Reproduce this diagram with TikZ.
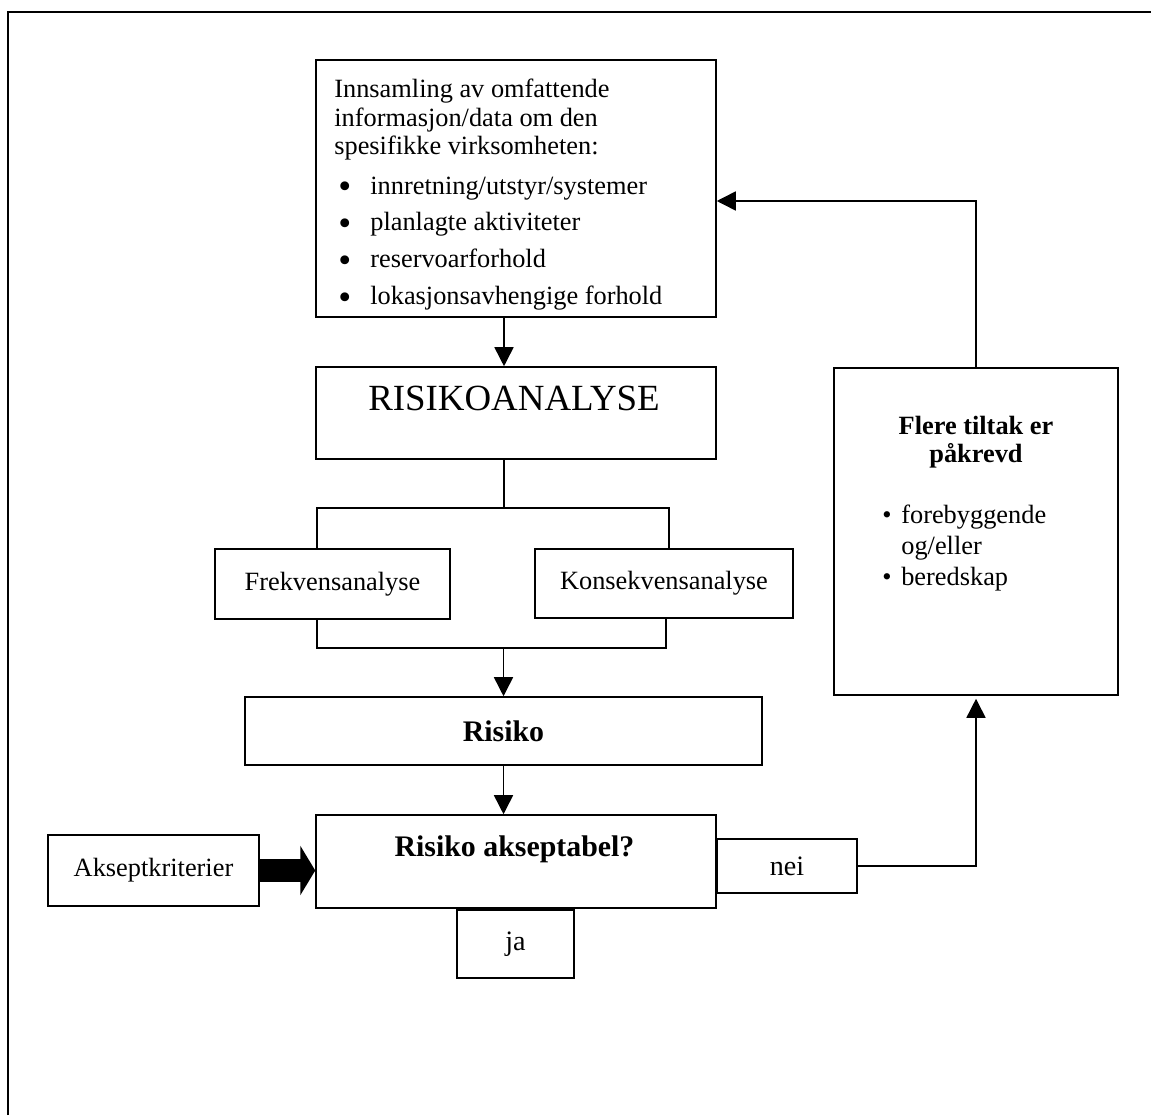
\documentclass[tikz,border=0pt]{standalone}
\usepackage{fontspec}
\setmainfont{Liberation Serif}
\usetikzlibrary{arrows.meta}
\def\pkt{\hspace*{0.08cm}\makebox[0.64cm][l]{\raisebox{-2.5pt}{\fontsize{21}{16}\selectfont\textbullet}}}
\def\lpkt{\makebox[10.8pt][l]{\textbullet}}

\begin{document}
\begin{tikzpicture}[x=0.02cm,y=-0.02cm,
		boks/.style={draw,line width=0.9pt,inner sep=0pt,font=\fontsize{15}{17}\selectfont},
		tekst/.style={inner sep=0pt,align=left,font=\fontsize{15}{16}\selectfont},
		fet/.style={inner sep=0pt,font=\fontsize{17}{19}\selectfont\bfseries},
		pil/.style={line width=0.9pt,-{Triangle[length=0.38cm,width=0.38cm]}},
		linje/.style={line width=0.9pt}]
			\useasboundingbox (0,0) rectangle (1151,1115);
			\draw[line width=1.1pt] (8,1115) -- (8,12) -- (1151,12);
			% boksene
			\node[boks,minimum width=8cm,minimum height=5.14cm] (info) at (516,188.5) {};
			\node[boks,minimum width=8cm,minimum height=1.84cm] (analyse) at (516,413) {};
			\node[boks,minimum width=4.7cm,minimum height=1.4cm] (frek) at (332.5,584) {Frekvensanalyse};
			\node[boks,minimum width=5.16cm,minimum height=1.38cm] (konsek) at (664,583.5) {Konsekvensanalyse};
			\node[boks,minimum width=10.34cm,minimum height=1.36cm,font=\fontsize{17}{19}\selectfont\bfseries] (risiko) at (503.5,731) {Risiko};
			\node[boks,minimum width=8cm,minimum height=1.86cm] (aksept) at (516,861.5) {};
			\node[boks,minimum width=4.22cm,minimum height=1.42cm] (kriterier) at (153.5,870.5) {Akseptkriterier};
			\node[boks,minimum width=2.34cm,minimum height=1.36cm,font=\fontsize{16}{18}\selectfont] (ja) at (515.5,944) {ja};
			\node[boks,minimum width=2.8cm,minimum height=1.08cm,font=\fontsize{16}{18}\selectfont] (nei) at (787,866) {nei};
			\node[boks,minimum width=5.68cm,minimum height=6.54cm] (tiltak) at (976,531.5) {};
			% tekst i boksene
			\node[tekst,anchor=north west] (infotekst) at (334,79) {Innsamling av omfattende\\
				informasjon/data om den\\
				spesifikke virksomheten:\\[6.7pt]
				\pkt innretning/utstyr/systemer\\[5pt]
				\pkt planlagte aktiviteter\\[5pt]
				\pkt reservoarforhold\\[5pt]
				\pkt lokasjonsavhengige forhold};
			\node[inner sep=0pt,anchor=base,font=\fontsize{21}{24}\selectfont] (analysetekst) at (514,410) {RISIKOANALYSE};
			\node[fet,anchor=base] (aksepttekst) at (514.5,856) {Risiko akseptabel?};
			\node[inner sep=0pt,anchor=north,align=center,font=\fontsize{15}{16}\selectfont\bfseries] (tiltaktekst) at (976,416) {Flere tiltak er\\ påkrevd};
			\node[tekst,anchor=north west,font=\fontsize{15}{17.6}\selectfont] (tiltakpunkt) at (882,505) {\lpkt forebyggende\\
				\hspace*{10.8pt}og/eller\\
				\lpkt beredskap};
			% forbindelser
			\coordinate (gaffel) at (504,508);
			\coordinate (venstre) at (317,508);
			\coordinate (hoyre) at (669,508);
			\coordinate (vned) at (317,648);
			\coordinate (hned) at (666,648);
			\draw[pil] (info.south -| gaffel) -- (analyse.north -| gaffel);
			\draw[linje] (analyse.south -| gaffel) -- (gaffel);
			\draw[linje] (frek.north -| venstre) -- (venstre) -- (hoyre) -- (konsek.north -| hoyre);
			\draw[linje] (frek.south -| vned) -- (vned) -- (hned) -- (konsek.south -| hned);
			\draw[pil] (risiko.north |- vned) -- (risiko.north);
			\draw[pil] (risiko.south) -- (aksept.north -| risiko.south);
			\draw[line width=0.46cm,-{Triangle[length=0.3cm,width=0.98cm]}] (kriterier.east) -- (aksept.west |- kriterier.east);
			\draw[pil] (nei.east) -| ([yshift=-0.06cm]tiltak.south);
			\draw[pil] (tiltak.north) |- ([yshift=-0.25cm]info.east);
		\end{tikzpicture}
\end{document}
